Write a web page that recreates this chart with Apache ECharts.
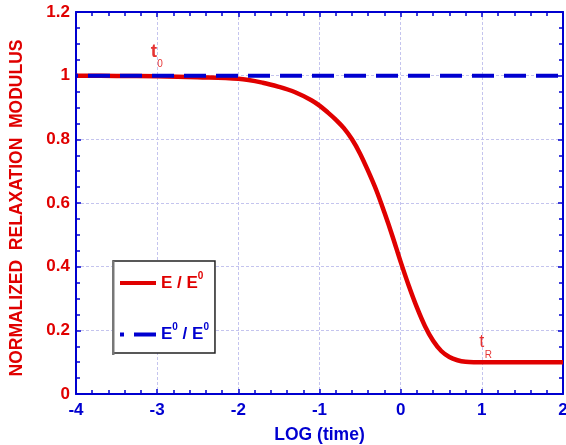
<!DOCTYPE html>
<html>
<head>
<meta charset="utf-8">
<script src="https://cdn.jsdelivr.net/npm/echarts@6/dist/echarts.min.js"></script>
<style>html,body{margin:0;padding:0;background:#fff;}#c{width:566px;height:445px;}</style>
</head>
<body>
<div id="c"></div>
<script>
// Data
const logTime = [-4, -3.5, -3, -2.5, -2, -1.7, -1.5, -1.3, -1.1, -1, -0.9, -0.8, -0.7, -0.6, -0.5, -0.4, -0.3, -0.2, -0.1, 0, 0.1, 0.2, 0.3, 0.4, 0.5, 0.6, 0.7, 0.8, 0.9, 1, 1.5, 2];
const relaxModulus = [1.0, 0.999, 0.998, 0.995, 0.99, 0.978, 0.965, 0.948, 0.923, 0.906, 0.885, 0.862, 0.835, 0.80, 0.755, 0.70, 0.64, 0.57, 0.495, 0.415, 0.34, 0.272, 0.213, 0.167, 0.135, 0.116, 0.106, 0.101, 0.10, 0.10, 0.10, 0.10];
const refTime = [-4, 2];
const refModulus = [1, 1];
const xTicks = [-4, -3, -2, -1, 0, 1, 2];
const yTicks = [0, 0.2, 0.4, 0.6, 0.8, 1, 1.2];
const seriesNames = ['E / E0', 'E0 / E0'];
const annotations = [
  { name: 't', x: -3.04, y: 1.074, kind: 'tb' },
  { name: '0', x: -2.965, y: 1.036, kind: 'sub' },
  { name: 't', x: 1.0, y: 0.164, kind: 'tn' },
  { name: 'R', x: 1.08, y: 0.122, kind: 'sub' }
];

const RED = '#e00000';
const BLUE = '#0000d0';
const FONT = '"Liberation Sans", Arial, sans-serif';

const chart = echarts.init(document.getElementById('c'), null, { renderer: 'canvas' });

const mainLine = logTime.map((x, i) => [x, relaxModulus[i]]);
const refLine = refTime.map((x, i) => [x, refModulus[i]]);

const axisCommon = {
  type: 'value',
  axisLine: { show: true, onZero: false, lineStyle: { color: BLUE, width: 2 } },
  axisTick: { show: true, inside: true, length: 5, lineStyle: { color: BLUE, width: 1.5 } },
  minorTick: { show: true, length: 4, lineStyle: { color: BLUE, width: 1.5 } }
};

const option = {
  backgroundColor: '#fff',
  animation: false,
  grid: { left: 76, right: 3, top: 12, bottom: 51, containLabel: false, outerBoundsMode: 'none' },
  xAxis: [
    Object.assign({}, axisCommon, {
      min: xTicks[0], max: xTicks[xTicks.length - 1], interval: 1, position: 'bottom',
      minorTick: Object.assign({}, axisCommon.minorTick, { splitNumber: 5 }),
      axisLabel: { color: BLUE, fontFamily: FONT, fontWeight: 'bold', fontSize: 17, margin: 8, hideOverlap: false },
      splitLine: { show: true, lineStyle: { color: '#c4c4ee', width: 1, type: [3, 2] } },
      name: 'LOG (time)', nameLocation: 'middle', nameGap: 32,
      nameTextStyle: { color: BLUE, fontFamily: FONT, fontWeight: 'bold', fontSize: 17.5 }
    }),
    Object.assign({}, axisCommon, {
      min: xTicks[0], max: xTicks[xTicks.length - 1], interval: 1, position: 'top',
      minorTick: Object.assign({}, axisCommon.minorTick, { splitNumber: 5 }),
      axisLabel: { show: false }, splitLine: { show: false }
    })
  ],
  yAxis: [
    Object.assign({}, axisCommon, {
      min: yTicks[0], max: yTicks[yTicks.length - 1], interval: 0.2, position: 'left',
      minorTick: Object.assign({}, axisCommon.minorTick, { splitNumber: 4 }),
      axisLabel: { color: RED, fontFamily: FONT, fontWeight: 'bold', fontSize: 17, margin: 6 },
      splitLine: { show: true, lineStyle: { color: '#c4c4ee', width: 1, type: [3, 2] } },
      name: 'NORMALIZED  RELAXATION  MODULUS', nameLocation: 'middle', nameGap: 50, nameRotate: 90,
      nameTextStyle: { color: RED, fontFamily: FONT, fontWeight: 'bold', fontSize: 17.5, padding: [0, 10, 0, 0] }
    }),
    Object.assign({}, axisCommon, {
      min: yTicks[0], max: yTicks[yTicks.length - 1], interval: 0.2, position: 'right',
      minorTick: Object.assign({}, axisCommon.minorTick, { splitNumber: 4 }),
      axisLabel: { show: false }, splitLine: { show: false }
    })
  ],
  legend: {
    orient: 'vertical',
    left: 113, top: 261,
    padding: [10, 6, 10, 7],
    itemGap: 31,
    itemWidth: 36, itemHeight: 4,
    backgroundColor: '#fff',
    borderColor: '#222', borderWidth: 1.5, borderRadius: 0,
    data: [
      { name: seriesNames[0], icon: 'path://M0,0 L36,0 L36,4 L0,4 Z', itemStyle: { color: RED } },
      { name: seriesNames[1], icon: 'path://M0,0 L4,0 L4,4 L0,4 Z M14,0 L36,0 L36,4 L14,4 Z', itemStyle: { color: BLUE } }
    ],
    formatter: function (name) {
      if (name === seriesNames[0]) return '{r|E / E}{rs|0}';
      return '{b|E}{bs|0}{b| / E}{bs|0}';
    },
    textStyle: {
      fontFamily: FONT,
      rich: {
        r: { color: RED, fontWeight: 'bold', fontSize: 17, fontFamily: FONT, lineHeight: 24 },
        rs: { color: RED, fontWeight: 'bold', fontSize: 10, fontFamily: FONT, verticalAlign: 'top', lineHeight: 24 },
        b: { color: BLUE, fontWeight: 'bold', fontSize: 17, fontFamily: FONT, lineHeight: 24 },
        bs: { color: BLUE, fontWeight: 'bold', fontSize: 10, fontFamily: FONT, verticalAlign: 'top', lineHeight: 24 }
      }
    }
  },
  graphic: [
    { type: 'rect', left: 112, top: 261, shape: { width: 2.5, height: 94 }, style: { fill: '#777' }, z: 100 }
  ],
  series: [
    {
      name: seriesNames[0], type: 'line', data: mainLine, smooth: 0.35,
      symbol: 'none', lineStyle: { color: RED, width: 4.5 }, itemStyle: { color: RED }, z: 3
    },
    {
      name: seriesNames[1], type: 'line', data: refLine,
      symbol: 'none', lineStyle: { color: BLUE, width: 4, type: [22, 10], dashOffset: 20 },
      itemStyle: { color: BLUE }, z: 4
    },
    {
      name: 'annot', type: 'scatter', symbolSize: 0, silent: true, z: 5,
      data: annotations.map(a => ({ value: [a.x, a.y], name: a.name, kind: a.kind })),
      label: {
        show: true, position: 'inside',
        formatter: p => p.name,
        color: RED, fontFamily: FONT
      }
    }
  ]
};

// per-annotation label styles
option.series[2].data.forEach(d => {
  if (d.kind === 'tb') d.label = { fontSize: 19, fontWeight: 'bold' };
  else if (d.kind === 'tn') d.label = { fontSize: 18, fontWeight: 'normal' };
  else d.label = { fontSize: 10, fontWeight: 'normal' };
});

chart.setOption(option);
</script>
</body>
</html>
